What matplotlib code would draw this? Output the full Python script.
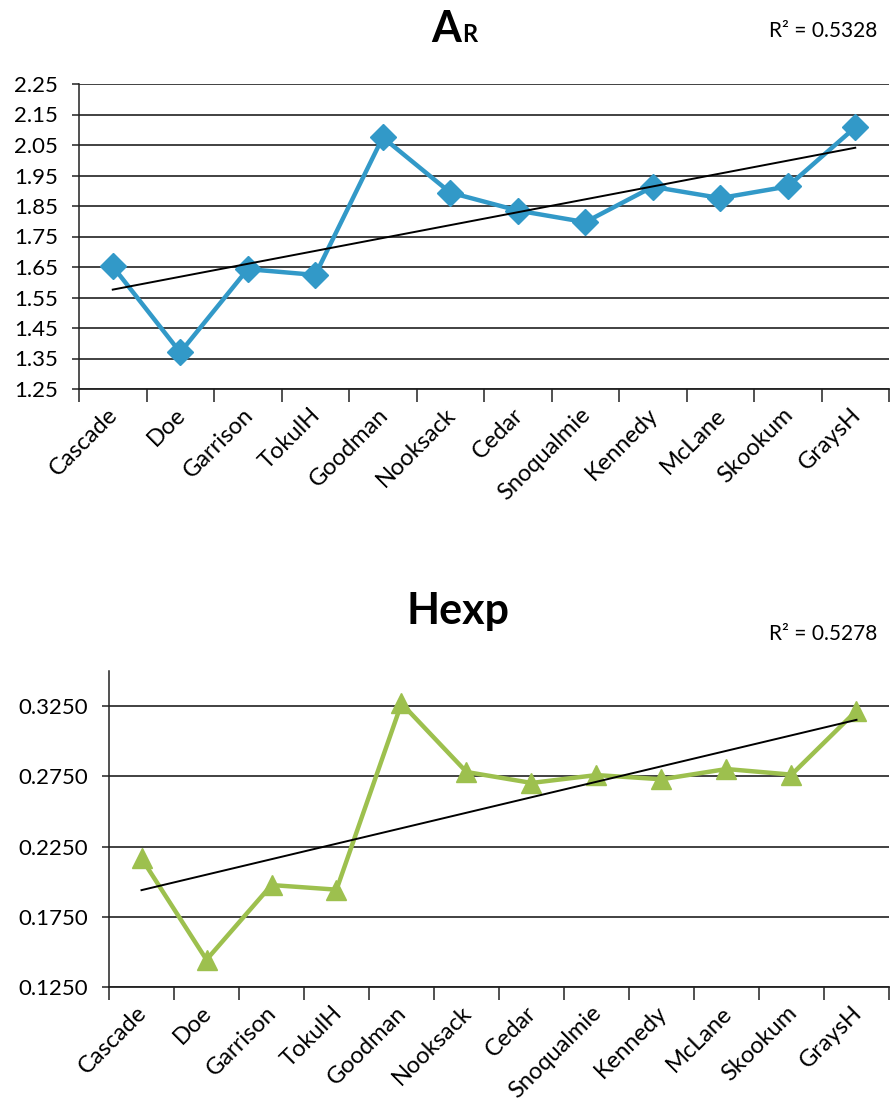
import numpy as np
import matplotlib
matplotlib.use("Agg")
from matplotlib import pyplot as plt

plt.rcParams['font.family'] = ['Lato', 'DejaVu Sans']

sites = ['Cascade', 'Doe', 'Garrison', 'TokulH', 'Goodman', 'Nooksack',
         'Cedar', 'Snoqualmie', 'Kennedy', 'McLane', 'Skookum', 'GraysH']
ar_vals = [1.652, 1.370, 1.643, 1.624, 2.075, 1.894,
           1.835, 1.797, 1.913, 1.876, 1.914, 2.108]
hexp_vals = [0.2166, 0.1444, 0.1976, 0.1943, 0.3269, 0.2781,
             0.2703, 0.2759, 0.2729, 0.2802, 0.2762, 0.3217]
ar_ticks = [1.25, 1.35, 1.45, 1.55, 1.65, 1.75, 1.85, 1.95, 2.05, 2.15, 2.25]
hexp_ticks = [0.125, 0.175, 0.225, 0.275, 0.325]
ar_r2 = 'R² = 0.5328'
hexp_r2 = 'R² = 0.5278'

W, H = 894, 1108
fig = plt.figure(figsize=(W / 100, H / 100), dpi=100)


def box(l, t, r, b):
    return [l / W, 1 - b / H, (r - l) / W, (b - t) / H]


def draw(ax, vals, ticks, ylim, fmt, color, marker, msize):
    x = np.arange(len(sites))
    fit = np.poly1d(np.polyfit(x, vals, 1))
    ax.set_xlim(-0.5, len(sites) - 0.5)
    ax.set_ylim(*ylim)
    for t in ticks:
        ax.axhline(t, color='#333333', lw=1.3, zorder=1)
    ax.plot(x, vals, color=color, lw=3.2, marker=marker, ms=msize,
            mec=color, mfc=color, zorder=3, clip_on=False)
    ax.plot(x, fit(x), color='black', lw=1.4, zorder=4)
    ax.set_yticks(ticks)
    ax.set_yticklabels([fmt.format(t) for t in ticks], fontsize=16)
    ax.set_xticks(np.arange(len(sites) + 1) - 0.5)
    ax.set_xticklabels([])
    ax.tick_params(axis='x', direction='out', length=9, width=1.1, color='#222222')
    ax.tick_params(axis='y', direction='out', length=5, width=1.1, pad=10, color='#222222')
    for i, s in enumerate(sites):
        ax.annotate(s, xy=(i, ylim[0]), xycoords='data',
                    xytext=(-4, -11), textcoords='offset points',
                    rotation=45, ha='right', va='top', rotation_mode='anchor',
                    fontsize=17)
    for sp in ['top', 'right']:
        ax.spines[sp].set_visible(False)
    ax.spines['left'].set_color('#222222')
    ax.spines['bottom'].set_color('#222222')
    ax.spines['left'].set_linewidth(1.1)
    ax.spines['bottom'].set_linewidth(1.3)


ax1 = fig.add_axes(box(79, 84, 889, 389))
draw(ax1, ar_vals, ar_ticks, (1.25, 2.25), '{:.2f}', '#3299C8', 'D', 13)

ax2 = fig.add_axes(box(109, 671, 889, 987))
draw(ax2, hexp_vals, hexp_ticks, (0.125, 0.35), '{:.4f}', '#9DC04E', '^', 15)

# titles and R² labels
fig.text(461 / W, 1 - 42 / H, 'A', fontsize=31, fontweight='bold', ha='right', va='baseline')
fig.text(462 / W, 1 - 42 / H, 'R', fontsize=17, fontweight='bold', ha='left', va='baseline')
fig.text(877 / W, 1 - 37 / H, ar_r2, fontsize=15, ha='right', va='baseline')

fig.text(458 / W, 1 - 624 / H, 'Hexp', fontsize=31, fontweight='bold', ha='center', va='baseline')
fig.text(877 / W, 1 - 640 / H, hexp_r2, fontsize=15, ha='right', va='baseline')

fig.savefig('out.png', dpi=100)
